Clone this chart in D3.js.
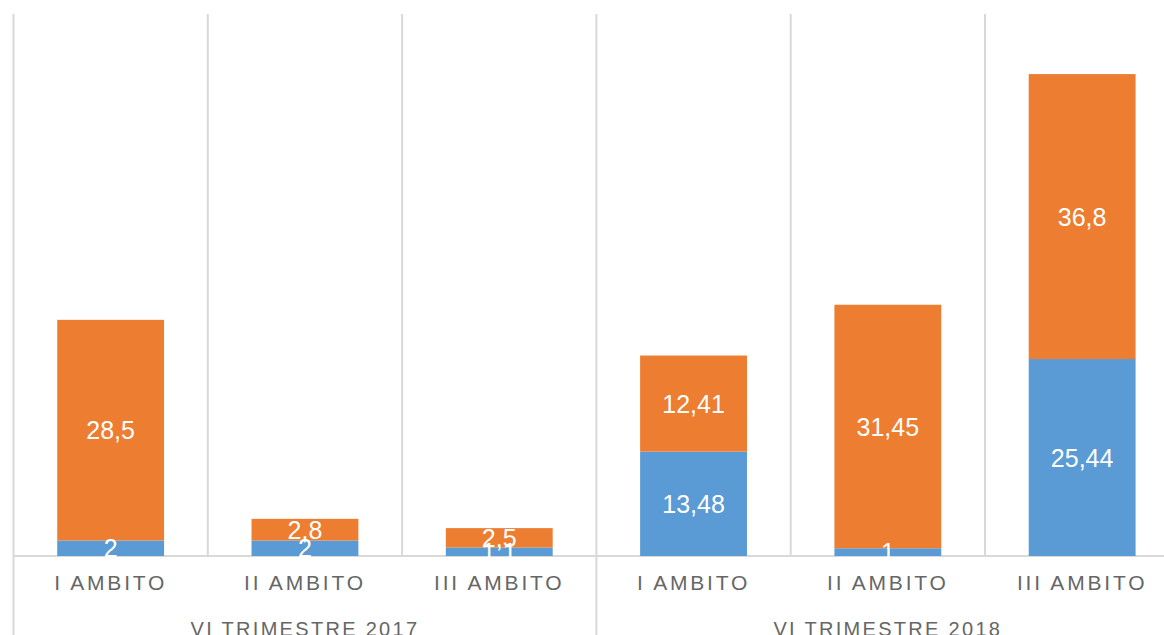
<!DOCTYPE html>
<html>
<head>
<meta charset="utf-8">
<script src="https://cdn.jsdelivr.net/npm/d3@7"></script>
<style>
  html, body { margin: 0; padding: 0; background: #fff; overflow: hidden; }
  svg { display: block; }
</style>
</head>
<body>
<svg id="chart" width="1164" height="635"></svg>
<script>
// ---- data ----
const groups = ["VI TRIMESTRE 2017", "VI TRIMESTRE 2018"];
const categories = ["I AMBITO", "II AMBITO", "III AMBITO"];
const seriesNames = ["Serie 1", "Serie 2"];
const blueValues = [2, 2, 1.1, 13.48, 1, 25.44];
const orangeValues = [28.5, 2.8, 2.5, 12.41, 31.45, 36.8];
const yDomain = [0, 70];
const colors = ["#5B9BD5", "#ED7D31"];

// ---- build rows ----
const rows = [];
groups.forEach((g, gi) => categories.forEach((c, ci) => {
  const i = gi * categories.length + ci;
  rows.push({ key: g + "|" + c, group: g, cat: c, blue: blueValues[i], orange: orangeValues[i] });
}));

const svg = d3.select("#chart");
const left = 13.5, bandW = 194.3;
const baseY = 556, topY = 14;

const x = d3.scaleBand()
  .domain(rows.map(d => d.key))
  .range([left, left + bandW * rows.length])
  .paddingInner(0.45).paddingOuter(0.225);
const y = d3.scaleLinear().domain(yDomain).range([baseY, topY]);

const stack = d3.stack().keys(["blue", "orange"]);
const stacked = stack(rows);

const grid = "#D9D9D9";
const step = x.step();
const x0 = x.range()[0];
for (let i = 0; i <= rows.length; i++) {
  const xx = x0 + i * step;
  const isGroupEdge = i % categories.length === 0;
  svg.append("line")
    .attr("x1", xx).attr("x2", xx)
    .attr("y1", topY).attr("y2", isGroupEdge ? 635 : baseY)
    .attr("stroke", grid).attr("stroke-width", 2);
}
svg.append("line")
  .attr("x1", x0).attr("x2", 1164)
  .attr("y1", baseY).attr("y2", baseY)
  .attr("stroke", grid).attr("stroke-width", 2);

// bars
const layers = svg.selectAll("g.layer").data(stacked).join("g")
  .attr("class", "layer").attr("fill", (d, i) => colors[i]);
layers.selectAll("rect").data(d => d).join("rect")
  .attr("x", d => x(d.data.key))
  .attr("width", x.bandwidth())
  .attr("y", d => y(d[1]))
  .attr("height", d => y(d[0]) - y(d[1]));

// data labels
const fmt = v => String(v).replace(".", ",");
stacked.forEach((layer, li) => {
  svg.append("g").selectAll("text").data(layer).join("text")
    .attr("x", d => x(d.data.key) + x.bandwidth() / 2)
    .attr("y", d => (y(d[0]) + y(d[1])) / 2)
    .attr("dy", "0.36em")
    .attr("text-anchor", "middle")
    .attr("fill", "#fff")
    .attr("font-family", "Liberation Sans, Arial, sans-serif")
    .attr("font-size", 25)
    .text(d => fmt(d.data[layer.key]));
});

// category labels
svg.append("g").selectAll("text").data(rows).join("text")
  .attr("x", d => x(d.key) + x.bandwidth() / 2)
  .attr("y", 590)
  .attr("text-anchor", "middle")
  .attr("fill", "#666666")
  .attr("font-family", "Liberation Sans, Arial, sans-serif")
  .attr("font-size", 21)
  .attr("letter-spacing", 2.8)
  .text(d => d.cat);

// group labels
svg.append("g").selectAll("text").data(groups).join("text")
  .attr("x", (g, gi) => x0 + (gi * categories.length + categories.length / 2) * step)
  .attr("y", 636)
  .attr("text-anchor", "middle")
  .attr("fill", "#666666")
  .attr("font-family", "Liberation Sans, Arial, sans-serif")
  .attr("font-size", 20)
  .attr("letter-spacing", 2.3)
  .text(d => d);
</script>
</body>
</html>
